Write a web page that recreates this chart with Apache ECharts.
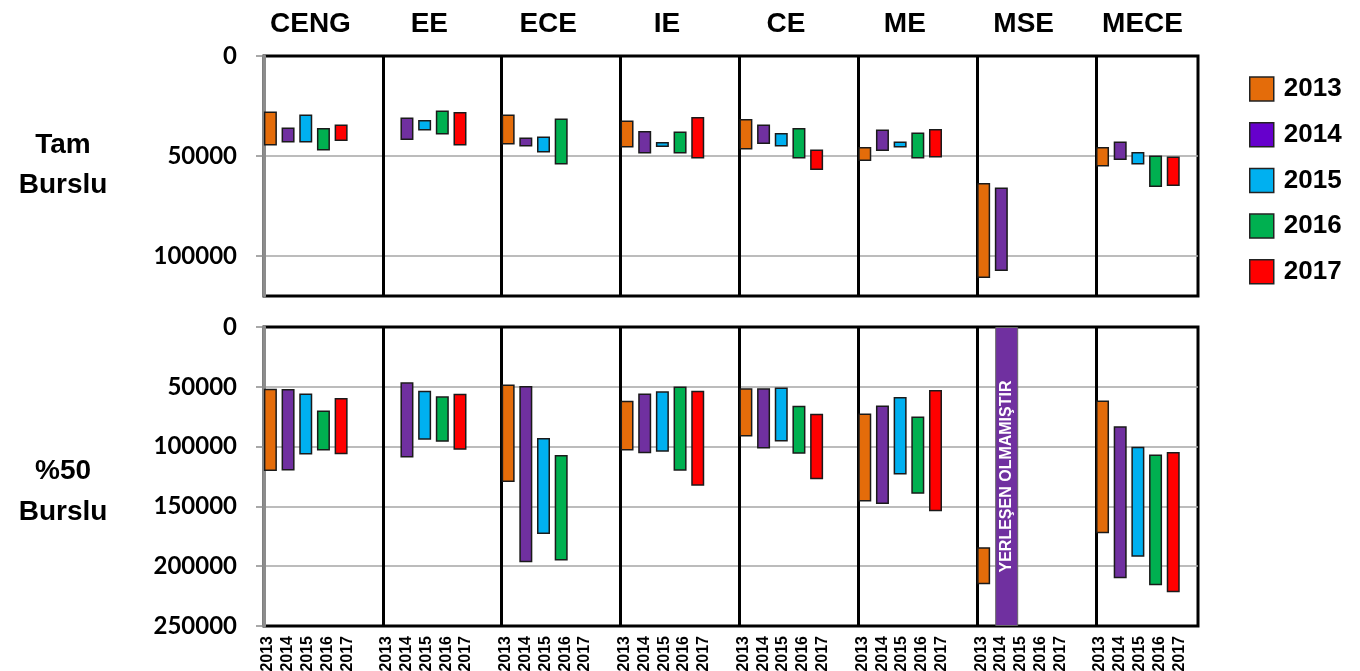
<!DOCTYPE html>
<html><head><meta charset="utf-8">
<script src="https://cdn.jsdelivr.net/npm/echarts@6/dist/echarts.min.js"></script>
<style>html,body{margin:0;padding:0;background:#fff}#c{width:1360px;height:671px}</style>
</head><body><div id="c"></div>
<script>
// ---- data ----
const depts = ['CENG', 'EE', 'ECE', 'IE', 'CE', 'ME', 'MSE', 'MECE'];
const years = ['2013', '2014', '2015', '2016', '2017'];
const rowLabels = ['Tam\nBurslu', '%50\nBurslu'];

// Tam Burslu: [best rank, worst rank] per department
const tam2013 = [[27700, 44800], null, [29200, 44200], [32200, 45800], [31500, 46700], [45500, 52500], [63500, 111000], [45500, 55200]];
const tam2014 = [[35700, 43300], [30700, 42000], [40800, 45300], [37500, 48800], [34300, 44000], [36800, 47500], [65800, 107500], [42700, 52000]];
const tam2015 = [[29300, 43200], [32000, 37200], [40200, 48300], [43000, 45500], [38500, 45200], [42800, 45700], null, [48000, 54300]];
const tam2016 = [[36000, 47200], [27200, 39200], [31300, 54300], [37700, 48700], [36000, 51300], [38200, 51200], null, [49800, 65500]];
const tam2017 = [[34200, 42500], [28000, 44700], null, [30500, 51300], [46800, 57000], [36500, 50800], null, [50300, 65000]];

// %50 Burslu
const yari2013 = [[51600, 120500], null, [48000, 129500], [61700, 103200], [51300, 91500], [72300, 145900], [184100, 215100], [61400, 172400]];
const yari2014 = [[51900, 120000], [46300, 109100], [49400, 196700], [55500, 105500], [51300, 101600], [65600, 147900], null, [82900, 210100]];
const yari2015 = [[55500, 106600], [53300, 94300], [92900, 173000], [53800, 104300], [50500, 95700], [58600, 123300], null, [100200, 192200]];
const yari2016 = [[69800, 103200], [58000, 96000], [107100, 195300], [49700, 120200], [65800, 106000], [74800, 139500], null, [106600, 216000]];
const yari2017 = [[59400, 106300], [55800, 102700], null, [53300, 132800], [72500, 127200], [52700, 154000], null, [104600, 221800]];

const noPlacement = { dept: 'MSE', year: '2014', text: 'YERLEŞEN OLMAMIŞTIR' };

const tamTicks = { min: 0, max: 120000, interval: 50000 };
const yariTicks = { min: 0, max: 250000, interval: 50000 };

// ---- styles ----
const colors = ['#E46C0A', '#7030A0', '#00B0F0', '#00B050', '#FF0000'];
const legendColors = ['#E46C0A', '#6600CC', '#00B0F0', '#00B050', '#FF0000'];
const tamRanges = [tam2013, tam2014, tam2015, tam2016, tam2017];
const yariRanges = [yari2013, yari2014, yari2015, yari2016, yari2017];
const xMax = 7.858;          // visible span of the department axis (last panel is cut)
const BW = 13, BG = '36%';
const FONT = '"Liberation Sans", Arial, sans-serif';

const yearSlots = depts.flatMap(() => years.concat(['']));

// frame grids (0,1) carry the visible y axes & dividers; bar grids (2,3) carry the bars
function frameY(grid, t, showMax) {
  return {
    type: 'value', gridIndex: grid, inverse: true, min: t.min, max: t.max, interval: t.interval,
    axisLine: { show: true, lineStyle: { color: '#8c8c8c', width: 3 } },
    axisTick: { show: true, inside: false, length: 8, lineStyle: { color: '#8c8c8c', width: 1.5 } },
    axisLabel: { show: true, showMaxLabel: showMax, margin: 27, color: '#000', fontSize: 24, fontWeight: 'bold', fontFamily: 'Lato, ' + FONT, formatter: v => String(v) },
    splitLine: { show: true, showMinLine: false, showMaxLine: false, lineStyle: { color: '#a6a6a6', width: 1.5 } }
  };
}
function frameX(grid) {
  return {
    type: 'value', gridIndex: grid, min: 0, max: xMax, interval: 1,
    axisLine: { show: false }, axisTick: { show: false }, axisLabel: { show: false },
    splitLine: { show: true, showMinLine: false, showMaxLine: false, lineStyle: { color: '#000', width: 3 } }
  };
}
function barX(grid) {
  return { type: 'category', gridIndex: grid, data: depts, show: false };
}
function barY(grid, t) {
  return { type: 'value', gridIndex: grid, inverse: true, min: t.min, max: t.max, show: false };
}

const series = [];
[[2, tamRanges], [3, yariRanges]].forEach(([ax, ranges]) => {
  ranges.forEach((r, yi) => {
    const stack = 'a' + ax + 'y' + yi;
    series.push({
      type: 'bar', name: 'base', xAxisIndex: ax, yAxisIndex: ax, stack, barWidth: BW, barGap: BG,
      silent: true, itemStyle: { color: 'rgba(0,0,0,0)' }, emphasis: { disabled: true },
      data: r.map(v => v ? v[0] : null)
    });
    series.push({
      type: 'bar', name: years[yi], xAxisIndex: ax, yAxisIndex: ax, stack, barWidth: BW, barGap: BG,
      itemStyle: { color: colors[yi], borderColor: '#1a1a1a', borderWidth: 1.5 },
      data: r.map(v => v ? v[1] - v[0] : null)
    });
  });
  // two empty slots that complete each department's cluster
  for (let k = 0; k < 2; k++) {
    series.push({ type: 'bar', name: 'empty', xAxisIndex: ax, yAxisIndex: ax, stack: 'a' + ax + 'e' + k, barWidth: BW, barGap: BG, data: [] });
  }
});
// "no placement" marker for MSE 2014 (%50)
series.push({
  type: 'bar', name: noPlacement.year, xAxisIndex: 4, yAxisIndex: 3, barWidth: 23, barGap: 0,
  itemStyle: { color: '#7030A0', borderColor: '#666', borderWidth: 1 },
  label: { show: true, position: 'inside', rotate: 90, formatter: noPlacement.text, color: '#fff', fontSize: 16, fontWeight: 'bold', fontFamily: FONT },
  data: depts.map(d => d === noPlacement.dept ? yariTicks.max : null)
});
series.push({ type: 'bar', name: 'spacer', xAxisIndex: 4, yAxisIndex: 3, barWidth: 60, barGap: 0, data: [] });

const option = {
  animation: false,
  backgroundColor: '#fff',
  grid: [
    { left: 264, top: 56, width: 934, height: 240, show: true, borderColor: '#000', borderWidth: 3, backgroundColor: 'transparent', outerBoundsMode: 'none' },
    { left: 264, top: 327, width: 934, height: 299, show: true, borderColor: '#000', borderWidth: 3, backgroundColor: 'transparent', outerBoundsMode: 'none' },
    { left: 264, top: 56, width: 951, height: 240, outerBoundsMode: 'none' },
    { left: 264, top: 327, width: 951, height: 299, outerBoundsMode: 'none' },
    { left: 251, top: 56, width: 951, height: 240, outerBoundsMode: 'none' },
    { left: 258, top: 327, width: 951, height: 299, outerBoundsMode: 'none' }
  ],
  xAxis: [
    frameX(0),
    frameX(1),
    barX(2),
    barX(3),
    barX(3),
    {
      type: 'category', gridIndex: 4, position: 'top', data: depts,
      axisLine: { show: false }, axisTick: { show: false }, splitLine: { show: false },
      axisLabel: { interval: 0, margin: 18, color: '#000', fontSize: 28, fontWeight: 'bold', fontFamily: FONT }
    },
    {
      type: 'category', gridIndex: 5, position: 'bottom', data: yearSlots,
      axisLine: { show: false }, axisTick: { show: false }, splitLine: { show: false },
      axisLabel: { interval: 0, rotate: 90, margin: 10, color: '#000', fontSize: 16, fontWeight: 'bold', fontFamily: FONT }
    }
  ],
  yAxis: [
    frameY(0, tamTicks, false),
    frameY(1, yariTicks, true),
    barY(2, tamTicks),
    barY(3, yariTicks),
    { type: 'value', gridIndex: 4, show: false },
    { type: 'value', gridIndex: 5, show: false }
  ],
  legend: {
    orient: 'vertical', left: 1244, top: 71, itemWidth: 24, itemHeight: 24, itemGap: 19.7, icon: 'rect',
    textStyle: { color: '#000', fontSize: 26, fontWeight: 'bold', fontFamily: FONT, lineHeight: 24, padding: [0, 0, 0, 5] },
    data: years.map((y, i) => ({ name: y, itemStyle: { color: legendColors[i], borderColor: '#222', borderWidth: 1.5 } }))
  },
  graphic: [
    { type: 'text', x: 63, y: 165, style: { text: rowLabels[0], align: 'center', verticalAlign: 'middle', fontSize: 28, fontWeight: 'bold', fontFamily: FONT, lineHeight: 40, fill: '#000' } },
    { type: 'text', x: 63, y: 492, style: { text: rowLabels[1], align: 'center', verticalAlign: 'middle', fontSize: 28, fontWeight: 'bold', fontFamily: FONT, lineHeight: 41, fill: '#000' } }
  ],
  series
};
const chart = echarts.init(document.getElementById('c'));
chart.setOption(option);
</script>
</body></html>
